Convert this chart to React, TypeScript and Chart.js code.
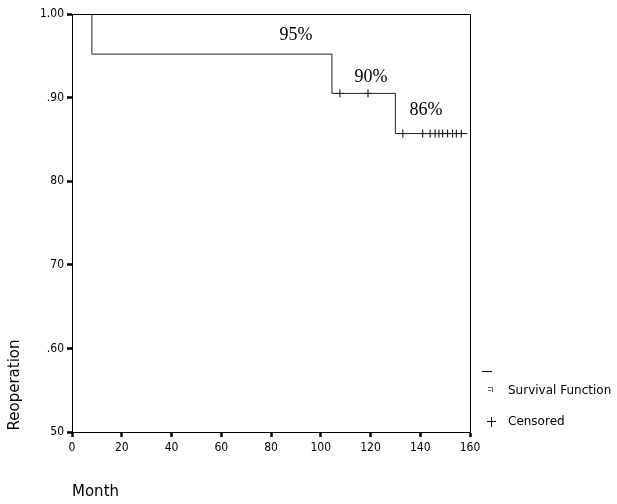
import React, { useEffect, useRef } from "react";
import { Chart, registerables } from "chart.js";

Chart.register(...registerables);

// Kaplan-Meier step curve (month, survival)
const curveMonths = [0, 8, 104.5, 130, 159];
const curveSurvival = [1.0, 0.952, 0.905, 0.857, 0.857];

// Censored observations
const censorMonths = [107.7, 119, 133, 141, 144, 146, 147.5, 149, 151, 153, 154.5, 156.5];
const censorSurvival = [0.905, 0.905, 0.857, 0.857, 0.857, 0.857, 0.857, 0.857, 0.857, 0.857, 0.857, 0.857];

// Percentage annotations
const pctLabels = ["95%", "90%", "86%"];
const pctMonths = [90, 120.2, 142.3];
const pctSurvival = [0.974, 0.924, 0.885];

// Axis ticks
const xTicks = [0, 20, 40, 60, 80, 100, 120, 140, 160];
const yTickValues = [0.5, 0.6, 0.7, 0.8, 0.9, 1.0];
const yTickLabels = ["50", ".60", "70", "80", ".90", "1.00"];

const SANS = "'DejaVu Sans', Verdana, sans-serif";
const TICK = "'DejaVu Sans Condensed', 'DejaVu Sans', sans-serif";
const SERIF = "'Liberation Serif', 'Times New Roman', serif";

export default function App() {
  const ref = useRef<HTMLCanvasElement | null>(null);

  useEffect(() => {
    if (!ref.current) return;

    const decor = {
      id: "decor",
      afterDatasetsDraw(chart: any) {
        const { ctx, chartArea, scales } = chart;
        ctx.save();
        // frame (top and right)
        ctx.strokeStyle = "#000";
        ctx.lineWidth = 1;
        ctx.beginPath();
        ctx.moveTo(chartArea.left, chartArea.top + 0.5);
        ctx.lineTo(chartArea.right + 0.5, chartArea.top + 0.5);
        ctx.lineTo(chartArea.right + 0.5, chartArea.bottom);
        ctx.stroke();

        // percentage labels
        ctx.fillStyle = "#000";
        ctx.font = `18px ${SERIF}`;
        ctx.textAlign = "center";
        ctx.textBaseline = "middle";
        pctLabels.forEach((t, i) => {
          ctx.fillText(t, scales.x.getPixelForValue(pctMonths[i]), scales.y.getPixelForValue(pctSurvival[i]));
        });

        // axis titles
        ctx.font = `15px ${SANS}`;
        ctx.textAlign = "left";
        ctx.fillText("Month", 72, 492);
        ctx.save();
        ctx.translate(15, 385);
        ctx.rotate(-Math.PI / 2);
        ctx.textAlign = "center";
        ctx.fillText("Reoperation", 0, 0);
        ctx.restore();

        // legend
        ctx.lineWidth = 1;
        ctx.strokeStyle = "#000";
        ctx.beginPath();
        ctx.moveTo(482, 371.5);
        ctx.lineTo(492, 371.5);
        ctx.stroke();
        ctx.strokeStyle = "#666";
        ctx.beginPath();
        ctx.moveTo(488, 387.5);
        ctx.lineTo(492.5, 387.5);
        ctx.lineTo(492.5, 392);
        ctx.moveTo(488, 390.5);
        ctx.lineTo(491, 390.5);
        ctx.stroke();
        ctx.strokeStyle = "#000";
        ctx.beginPath();
        ctx.moveTo(487, 421.5);
        ctx.lineTo(496, 421.5);
        ctx.moveTo(491.5, 417);
        ctx.lineTo(491.5, 427);
        ctx.stroke();
        ctx.font = `12px ${SANS}`;
        ctx.textAlign = "left";
        ctx.fillText("Survival Function", 508, 391);
        ctx.fillText("Censored", 508, 422);
        ctx.restore();
      },
    };

    const chart = new Chart(ref.current, {
      type: "scatter",
      data: {
        datasets: [
          {
            label: "Survival Function",
            data: curveMonths.map((m, i) => ({ x: m, y: curveSurvival[i] })),
            showLine: true,
            stepped: "before",
            borderColor: "#222",
            borderWidth: 1,
            pointRadius: 0,
            fill: false,
          } as any,
          {
            label: "Censored",
            data: censorMonths.map((m, i) => ({ x: m, y: censorSurvival[i] })),
            pointStyle: "cross",
            pointRadius: 4,
            borderColor: "#000",
            borderWidth: 1,
            backgroundColor: "#000",
          },
        ],
      },
      options: {
        responsive: false,
        animation: false,
        layout: { padding: { top: 14, right: 147, left: 0, bottom: 0 } },
        plugins: { legend: { display: false }, tooltip: { enabled: false } },
        scales: {
          x: {
            type: "linear",
            min: 0,
            max: 160,
            afterBuildTicks: (s: any) => {
              s.ticks = xTicks.map((v) => ({ value: v }));
            },
            afterFit: (s: any) => {
              s.height = 72;
            },
            ticks: {
              color: "#000",
              font: { family: TICK, size: 12 },
              padding: 4,
              maxRotation: 0,
              callback: (v: any) => String(v),
            },
            grid: {
              display: true,
              drawOnChartArea: false,
              drawTicks: true,
              tickLength: 5,
              tickWidth: 2.5,
              tickColor: "#000",
            },
            border: { display: true, color: "#000", width: 1 },
          },
          y: {
            type: "linear",
            min: 0.5,
            max: 1.0,
            afterBuildTicks: (s: any) => {
              s.ticks = yTickValues.map((v) => ({ value: v }));
            },
            afterFit: (s: any) => {
              s.width = 72;
            },
            ticks: {
              color: "#000",
              font: { family: TICK, size: 12 },
              padding: 3,
              callback: (v: any) => {
                const idx = yTickValues.findIndex((t) => Math.abs(t - Number(v)) < 1e-6);
                return idx >= 0 ? yTickLabels[idx] : "";
              },
            },
            grid: {
              display: true,
              drawOnChartArea: false,
              drawTicks: true,
              tickLength: 5,
              tickWidth: 2.5,
              tickColor: "#000",
            },
            border: { display: true, color: "#000", width: 1 },
          },
        },
      },
      plugins: [decor],
    });

    return () => chart.destroy();
  }, []);

  return (
    <div style={{ position: "absolute", left: 0, top: 0, width: 617, height: 504, background: "#fff" }}>
      <canvas ref={ref} width={617} height={504} style={{ display: "block" }} />
    </div>
  );
}
